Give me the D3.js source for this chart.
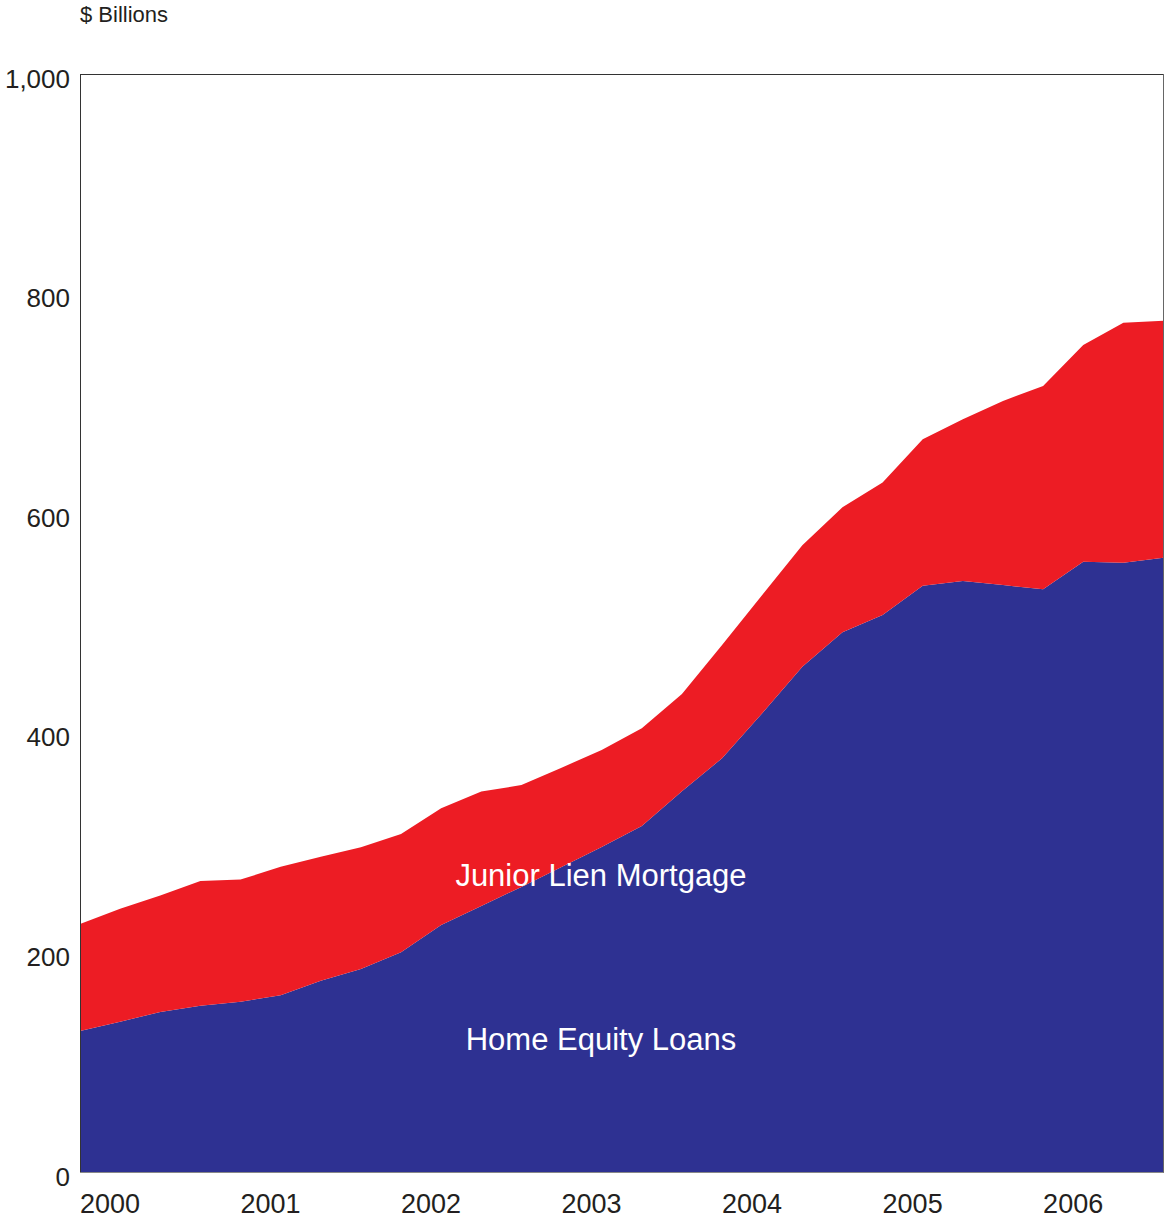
<!DOCTYPE html>
<html><head><meta charset="utf-8">
<script src="https://cdn.jsdelivr.net/npm/d3@7"></script>
<style>body{margin:0;background:#fff}svg{display:block}text{font-family:"Liberation Sans",Arial,sans-serif}</style>
</head><body>
<script>
const quarters = ["2000Q1","2000Q2","2000Q3","2000Q4","2001Q1","2001Q2","2001Q3","2001Q4","2002Q1","2002Q2","2002Q3","2002Q4","2003Q1","2003Q2","2003Q3","2003Q4","2004Q1","2004Q2","2004Q3","2004Q4","2005Q1","2005Q2","2005Q3","2005Q4","2006Q1","2006Q2","2006Q3","2006Q4"];
const homeEquityLoans = [128.7,137.1,146,151.7,155.3,161.2,174.5,185.1,200.3,225.2,242.5,259.8,278,296.2,315.3,347,377,418,460.4,491.7,507.4,534.1,538.4,534.7,530.8,556,555,559.6];
const totalOutstanding = [226,240,252,265.2,266.5,278.2,287.2,296,308,331.4,346.7,352.6,368.4,384.5,404.3,435.5,480,525.6,571,605.5,628,667.4,685.6,702.3,716,753.3,773.6,775.4];
const juniorLienMortgage = totalOutstanding.map((t,i)=>+(t-homeEquityLoans[i]).toFixed(1));
const yTicks = [0,200,400,600,800,1000];
const yearLabels = ["2000","2001","2002","2003","2004","2005","2006"];

const W=1164,H=1220;
const svg=d3.select("body").append("svg").attr("width",W).attr("height",H);
const x=d3.scalePoint().domain(quarters).range([80,1163.5]);
const y=d3.scaleLinear().domain([0,1000]).range([1172.3,74]);

const rows=quarters.map((q,i)=>({q,home:homeEquityLoans[i],junior:juniorLienMortgage[i]}));
const stack=d3.stack().keys(["home","junior"])(rows);
const colors={home:"#2E3192",junior:"#ED1C24"};
const area=d3.area().x(d=>x(d.data.q)).y0(d=>y(d[0])).y1(d=>y(d[1]));
svg.selectAll("path.layer").data(stack).join("path").attr("class","layer")
  .attr("d",area).attr("fill",d=>colors[d.key]);

// frame
svg.append("line").attr("x1",80.5).attr("x2",80.5).attr("y1",74).attr("y2",1172.5).attr("stroke","#333").attr("stroke-width",1);
svg.append("line").attr("x1",80).attr("x2",1164).attr("y1",74.5).attr("y2",74.5).attr("stroke","#333").attr("stroke-width",1);
svg.append("line").attr("x1",80).attr("x2",1164).attr("y1",1172.5).attr("y2",1172.5).attr("stroke","#888").attr("stroke-width",1);
svg.append("line").attr("x1",1163.5).attr("x2",1163.5).attr("y1",74).attr("y2",1172.5).attr("stroke","#666").attr("stroke-width",1);

// y axis
const yAxis=d3.axisLeft(y).tickValues(yTicks).tickSize(0).tickPadding(10).tickFormat(d3.format(","));
const ya=svg.append("g").attr("transform","translate(80,0)").call(yAxis);
ya.select(".domain").remove();
ya.selectAll("text").attr("font-size",26).attr("fill","#231f20").attr("dy","0.5em").attr("font-family","Liberation Sans, Arial, sans-serif");

// x year labels
const xYear=d3.scalePoint().domain(yearLabels).range([x("2000Q1"),x("2006Q1")]);
svg.append("g").selectAll("text").data(yearLabels).join("text")
  .attr("x",d=>xYear(d)).attr("y",1213).attr("font-size",27).attr("fill","#231f20").text(d=>d);

svg.append("text").attr("x",80).attr("y",22).attr("font-size",22).attr("fill","#231f20").text("$ Billions");

svg.append("text").attr("x",601).attr("y",886).attr("text-anchor","middle").attr("font-size",31).attr("fill","#fff").text("Junior Lien Mortgage");
svg.append("text").attr("x",601).attr("y",1050).attr("text-anchor","middle").attr("font-size",31).attr("fill","#fff").text("Home Equity Loans");
</script>
</body></html>
